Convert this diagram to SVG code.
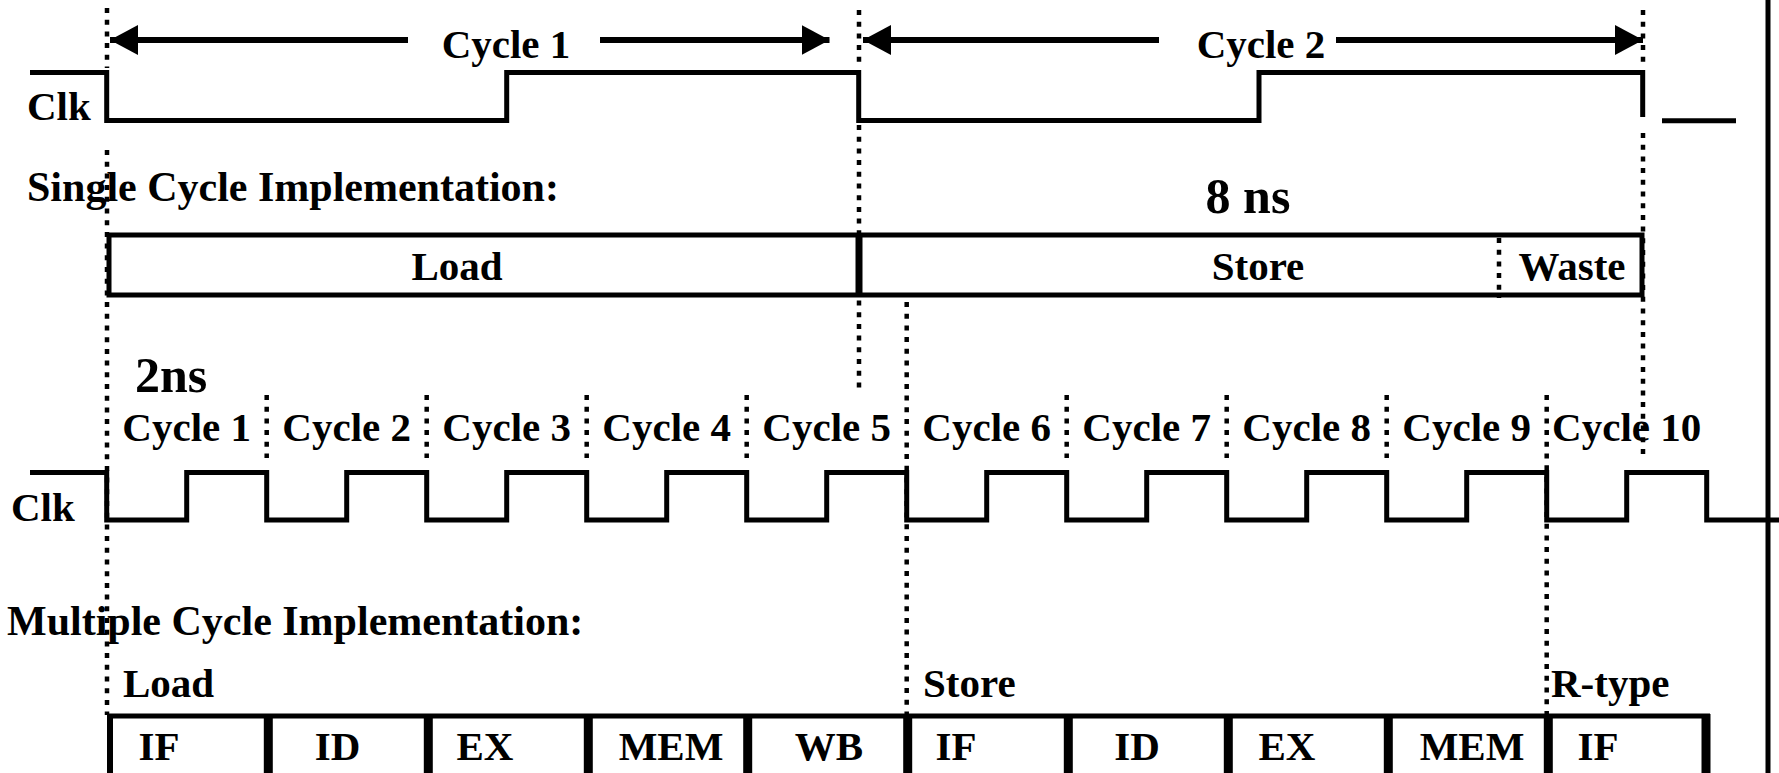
<svg xmlns="http://www.w3.org/2000/svg" width="1779" height="773" viewBox="0 0 1779 773">
<style>
text{font-family:"Liberation Serif","Times New Roman",serif;font-weight:bold;fill:#000;font-size:41px}
.big{font-size:50px}
.hdr{font-size:42px}
.mid{text-anchor:middle}
.sig{fill:none;stroke:#000;stroke-width:5;stroke-linejoin:miter;stroke-linecap:butt}
.dot{fill:none;stroke:#000;stroke-width:4.5;stroke-dasharray:5 6.7}
.arr{stroke:#000;stroke-width:6}
.box{fill:none;stroke:#000;stroke-width:5}
.div{stroke:#000;stroke-width:9}
</style>
<defs>
<marker id="ah" viewBox="0 0 28 30" refX="28" refY="15" markerWidth="28" markerHeight="30" markerUnits="userSpaceOnUse" orient="auto"><path d="M0,0 L28,15 L0,30 Z" fill="#000"/></marker>
</defs>
<rect width="1779" height="773" fill="#fff"/>

<g id="guides">
<line class="dot" x1="107" y1="8" x2="107" y2="68"/>
<line class="dot" x1="107" y1="150" x2="107" y2="715"/>
<line class="dot" x1="859" y1="10" x2="859" y2="68"/>
<line class="dot" x1="859" y1="125" x2="859" y2="393"/>
<line class="dot" x1="1643" y1="10" x2="1643" y2="66"/>
<line class="dot" x1="1643" y1="133" x2="1643" y2="458"/>
<line class="dot" x1="906.7" y1="302" x2="906.7" y2="715"/>
<line class="dot" x1="1546.7" y1="395" x2="1546.7" y2="715"/>
<line class="dot" x1="266.7" y1="395" x2="266.7" y2="458"/>
<line class="dot" x1="426.7" y1="395" x2="426.7" y2="458"/>
<line class="dot" x1="586.7" y1="395" x2="586.7" y2="458"/>
<line class="dot" x1="746.7" y1="395" x2="746.7" y2="458"/>
<line class="dot" x1="1066.7" y1="395" x2="1066.7" y2="458"/>
<line class="dot" x1="1226.7" y1="395" x2="1226.7" y2="458"/>
<line class="dot" x1="1386.7" y1="395" x2="1386.7" y2="458"/>
<line class="dot" x1="1499" y1="238" x2="1499" y2="298"/>
</g>

<g id="cycle-arrows">
<line class="arr" x1="408" y1="40" x2="110" y2="40" marker-end="url(#ah)"/>
<line class="arr" x1="600" y1="40" x2="829.5" y2="40" marker-end="url(#ah)"/>
<line class="arr" x1="1159" y1="40" x2="863" y2="40" marker-end="url(#ah)"/>
<line class="arr" x1="1336" y1="40" x2="1643" y2="40" marker-end="url(#ah)"/>
<text class="mid" x="506" y="58">Cycle 1</text>
<text class="mid" x="1261" y="58">Cycle 2</text>
</g>

<g id="clk-single">
<text x="27" y="120">Clk</text>
<path class="sig" d="M30,72.5 H106.7 V120.5 H506.7 V72.5 H858.7 V120.5 H1259 V72.5 H1642.7 V117"/>
<path class="sig" d="M1662,120.7 H1736"/>
</g>

<g id="single-cycle">
<text class="hdr" x="27" y="201">Single Cycle Implementation:</text>
<text class="big mid" x="1248" y="213">8 ns</text>
<rect class="box" x="109" y="235" width="1533" height="60"/>
<line stroke="#000" stroke-width="7" x1="859" y1="235" x2="859" y2="295"/>
<text class="mid" x="457" y="280">Load</text>
<text class="mid" x="1258" y="280">Store</text>
<text class="mid" x="1572" y="280">Waste</text>
</g>

<g id="clk-multi">
<text class="big" x="135" y="392">2ns</text>
<text class="mid" x="186.7" y="441">Cycle 1</text>
<text class="mid" x="346.7" y="441">Cycle 2</text>
<text class="mid" x="506.7" y="441">Cycle 3</text>
<text class="mid" x="666.7" y="441">Cycle 4</text>
<text class="mid" x="826.7" y="441">Cycle 5</text>
<text class="mid" x="986.7" y="441">Cycle 6</text>
<text class="mid" x="1146.7" y="441">Cycle 7</text>
<text class="mid" x="1306.7" y="441">Cycle 8</text>
<text class="mid" x="1466.7" y="441">Cycle 9</text>
<text class="mid" x="1626.7" y="441">Cycle 10</text>
<text x="11" y="521">Clk</text>
<path class="sig" d="M30,472.5 H106.7 V520 H186.7 V472.5 H266.7 V520 H346.7 V472.5 H426.7 V520 H506.7 V472.5 H586.7 V520 H666.7 V472.5 H746.7 V520 H826.7 V472.5 H906.7 V520 H986.7 V472.5 H1066.7 V520 H1146.7 V472.5 H1226.7 V520 H1306.7 V472.5 H1386.7 V520 H1466.7 V472.5 H1546.7 V520 H1626.7 V472.5 H1706.7 V520 H1779"/>
</g>

<g id="multi-cycle">
<text class="hdr" x="7" y="635">Multiple Cycle Implementation:</text>
<text x="123" y="697">Load</text>
<text x="923" y="697">Store</text>
<text x="1551" y="697">R-type</text>
<line stroke="#000" stroke-width="5" x1="107" y1="716" x2="1710" y2="716"/>
<line stroke="#000" stroke-width="6" x1="110" y1="714" x2="110" y2="773"/>
<line class="div" x1="268.3" y1="714" x2="268.3" y2="773"/>
<line class="div" x1="428.3" y1="714" x2="428.3" y2="773"/>
<line class="div" x1="588.3" y1="714" x2="588.3" y2="773"/>
<line class="div" x1="747.7" y1="714" x2="747.7" y2="773"/>
<line class="div" x1="907.7" y1="714" x2="907.7" y2="773"/>
<line class="div" x1="1068.3" y1="714" x2="1068.3" y2="773"/>
<line class="div" x1="1228.3" y1="714" x2="1228.3" y2="773"/>
<line class="div" x1="1388.3" y1="714" x2="1388.3" y2="773"/>
<line class="div" x1="1548.3" y1="714" x2="1548.3" y2="773"/>
<line class="div" x1="1706" y1="714" x2="1706" y2="773"/>
<text class="mid" x="159" y="760">IF</text>
<text class="mid" x="337.5" y="760">ID</text>
<text class="mid" x="485" y="760">EX</text>
<text class="mid" x="671" y="760">MEM</text>
<text class="mid" x="829" y="760">WB</text>
<text class="mid" x="956" y="760">IF</text>
<text class="mid" x="1137" y="760">ID</text>
<text class="mid" x="1287" y="760">EX</text>
<text class="mid" x="1472" y="760">MEM</text>
<text class="mid" x="1598" y="760">IF</text>
</g>

<g id="frame">
<line stroke="#000" stroke-width="5" x1="1768" y1="0" x2="1768" y2="773"/>
</g>
</svg>
